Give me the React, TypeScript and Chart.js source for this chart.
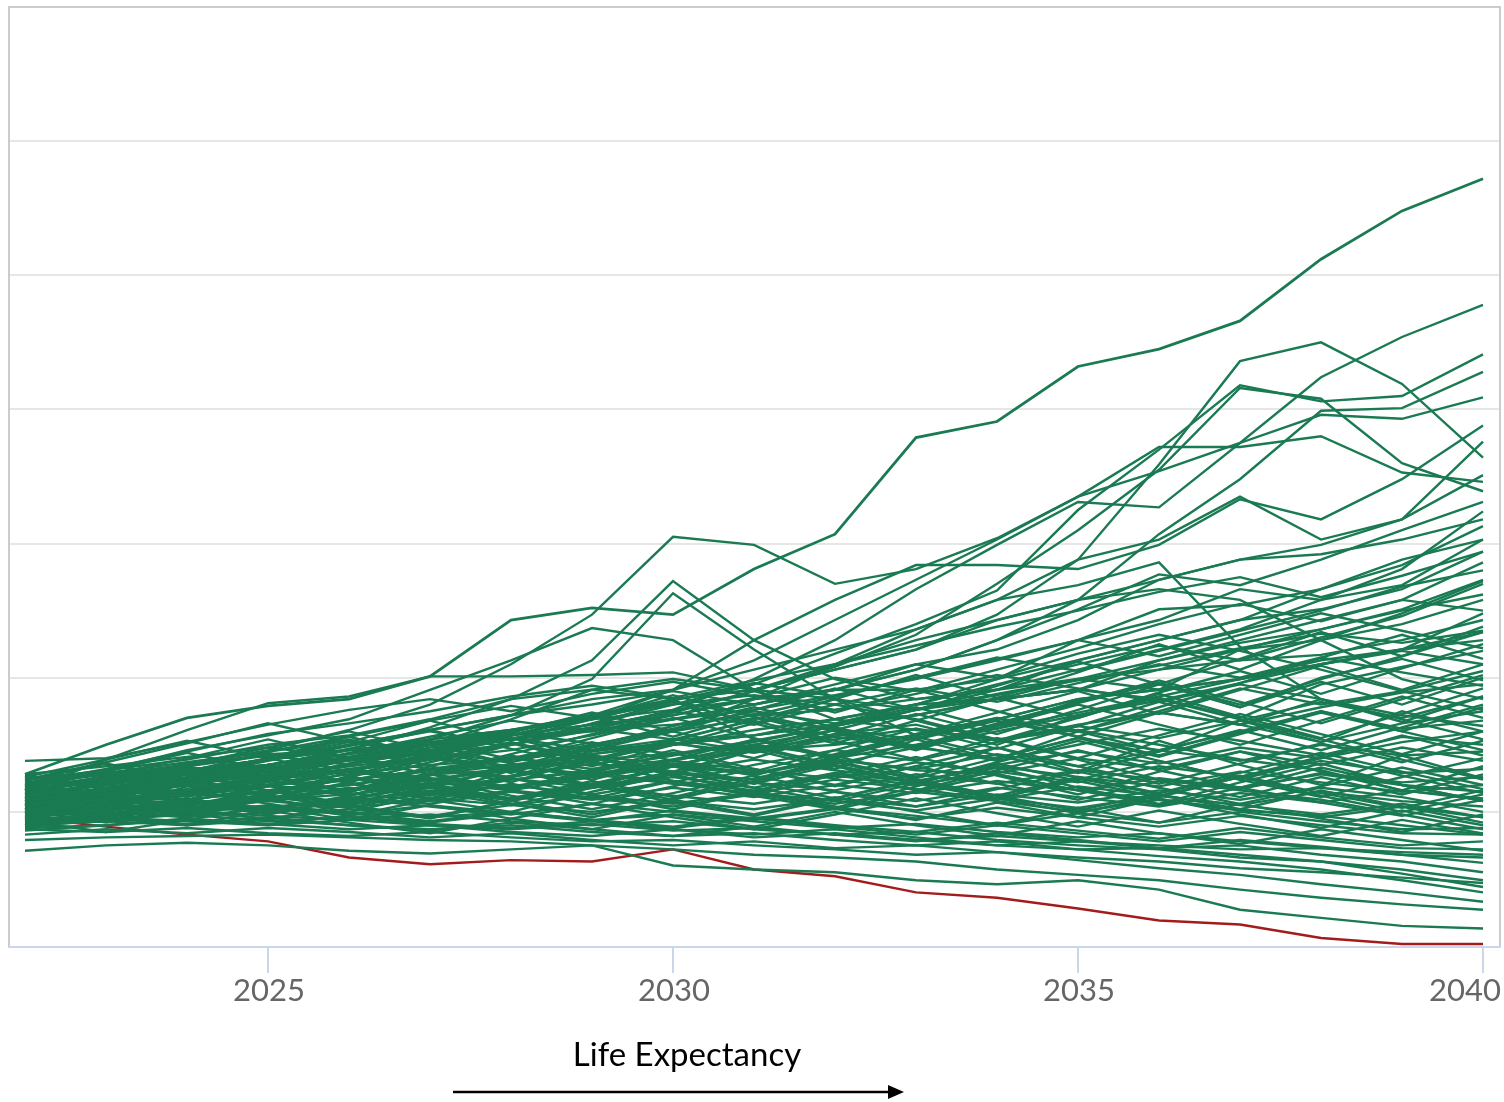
import { useEffect, useRef } from 'react';
import { Chart, registerables } from 'chart.js';

Chart.register(...registerables);

const YEARS = [2022, 2023, 2024, 2025, 2026, 2027, 2028, 2029, 2030, 2031, 2032, 2033, 2034, 2035, 2036, 2037, 2038, 2039, 2040];
const X_TICKS = [2025, 2030, 2035, 2040];
const AXIS_TITLE = 'Life Expectancy';

const RED_SERIES = [9.6, 8.9, 8.3, 7.8, 6.6, 6.1, 6.4, 6.3, 7.2, 5.7, 5.2, 4.0, 3.6, 2.8, 1.9, 1.6, 0.6, 0.15, 0.15];

const L01 = [12.8, 15.0, 17.0, 17.9, 18.4, 20.1, 24.3, 25.2, 24.7, 28.1, 30.7, 37.9, 39.1, 43.2, 44.5, 46.6, 51.2, 54.8, 57.2];
const L02 = [11.6, 12.5, 13.5, 14.6, 16.1, 18.0, 21.0, 24.7, 30.5, 29.9, 27.0, 28.1, 30.4, 33.5, 35.4, 37.5, 42.4, 45.4, 47.8];
const L03 = [10.9, 11.3, 12.4, 13.1, 13.9, 15.0, 16.1, 16.9, 18.4, 19.1, 20.6, 22.1, 24.7, 28.8, 35.9, 43.6, 45.0, 41.9, 36.4];
const L04 = [11.2, 12.0, 12.8, 13.5, 14.1, 15.2, 16.0, 17.2, 18.0, 19.5, 21.8, 24.0, 26.5, 32.5, 37.0, 41.8, 40.6, 41.0, 44.1];
const L05 = [10.5, 11.4, 12.1, 13.0, 13.8, 14.3, 15.5, 16.3, 17.5, 19.0, 20.8, 23.2, 27.0, 31.0, 35.5, 41.6, 40.8, 36.0, 33.9];
const L06 = [11.3, 11.6, 12.4, 13.5, 14.6, 16.3, 18.4, 21.3, 27.2, 22.8, 19.9, 18.4, 19.1, 21.3, 22.8, 24.3, 26.6, 28.8, 30.3];
const L07 = [10.5, 10.9, 11.6, 12.8, 13.9, 15.4, 17.2, 19.9, 26.3, 22.1, 18.4, 15.7, 16.9, 18.4, 19.1, 19.9, 21.0, 22.1, 22.8];
const L08 = [12.0, 13.1, 14.6, 15.7, 16.9, 19.1, 21.3, 23.7, 22.8, 19.1, 16.9, 16.1, 15.4, 16.1, 15.0, 13.9, 13.1, 11.6, 10.9];
const L09 = [11.6, 13.9, 16.1, 18.1, 18.6, 20.1, 20.1, 20.2, 20.4, 19.1, 21.0, 22.8, 24.3, 25.8, 27.3, 28.8, 29.2, 30.3, 31.8];
const L10 = [10.9, 11.3, 12.0, 12.8, 13.9, 14.6, 15.7, 17.2, 19.1, 21.3, 24.3, 27.3, 30.3, 33.5, 37.2, 37.2, 38.0, 35.3, 34.6];
const L11 = [10.1, 10.9, 11.3, 12.0, 13.1, 13.9, 15.0, 16.1, 17.6, 19.9, 22.8, 26.6, 29.9, 33.1, 32.7, 37.5, 39.6, 39.3, 40.9];
const L12 = [10.5, 10.9, 11.6, 12.4, 13.1, 14.3, 15.4, 16.9, 19.1, 22.8, 25.8, 28.4, 28.4, 28.1, 29.9, 33.3, 31.8, 34.8, 38.8];
const L13 = [9.8, 10.1, 10.5, 11.3, 12.0, 13.1, 13.9, 15.0, 16.1, 18.4, 21.0, 23.6, 25.8, 28.8, 30.3, 33.5, 30.3, 31.8, 37.6];
const L14 = [12.4, 12.8, 13.1, 13.9, 14.6, 15.0, 15.7, 16.5, 17.2, 18.4, 19.1, 21.0, 22.1, 24.3, 27.3, 28.8, 29.9, 31.8, 35.1];
const L15 = [11.3, 11.6, 12.4, 12.8, 13.1, 13.9, 14.6, 15.7, 16.9, 18.0, 19.1, 20.6, 22.8, 25.1, 27.7, 26.9, 28.8, 31.0, 33.1];
const L16 = [9.4, 9.8, 10.5, 10.9, 11.6, 12.4, 13.1, 13.9, 15.0, 16.1, 16.9, 18.0, 19.9, 22.8, 24.3, 26.6, 25.8, 28.1, 32.4];
const L17 = [10.9, 11.6, 12.8, 13.5, 14.3, 15.0, 15.7, 16.5, 16.9, 17.6, 18.7, 19.9, 21.3, 22.8, 25.1, 25.4, 26.6, 28.4, 31.3];
const L18 = [10.1, 10.5, 10.9, 11.6, 12.0, 12.8, 13.1, 13.9, 14.3, 15.0, 16.1, 17.6, 19.1, 20.6, 22.1, 23.6, 25.8, 26.9, 30.3];
const L19 = [11.6, 12.4, 13.1, 13.5, 14.6, 15.4, 16.1, 16.9, 17.6, 18.4, 19.1, 19.1, 19.9, 21.3, 22.8, 24.3, 25.1, 26.6, 29.4];
const L20 = [10.5, 10.9, 11.3, 12.0, 12.4, 13.1, 13.9, 14.6, 15.4, 15.7, 16.9, 18.0, 18.4, 19.1, 21.3, 22.8, 24.3, 25.8, 28.6];
const L21 = [9.8, 10.1, 10.9, 11.6, 12.4, 13.1, 13.5, 14.3, 15.0, 15.7, 16.5, 17.2, 18.4, 19.9, 19.1, 22.1, 23.6, 25.1, 27.3];
const L22 = [12.0, 12.8, 13.5, 14.3, 14.6, 15.0, 15.4, 16.1, 16.5, 17.2, 17.6, 18.4, 19.1, 19.9, 20.6, 22.1, 22.8, 24.0, 25.8];
const L23 = [10.9, 11.3, 11.6, 12.0, 12.8, 13.5, 13.9, 14.6, 15.0, 15.7, 16.5, 17.2, 18.4, 19.1, 20.6, 21.3, 21.7, 22.8, 24.3];
const L24 = [9.4, 9.8, 10.1, 10.9, 11.3, 12.0, 12.4, 13.1, 13.9, 14.6, 15.0, 15.7, 16.9, 18.4, 19.1, 19.9, 21.3, 22.1, 23.4];
const L25 = [11.6, 12.2, 12.8, 13.3, 13.9, 14.5, 15.4, 16.0, 16.9, 18.0, 19.1, 20.6, 22.8, 25.8, 30.7, 34.8, 39.9, 40.1, 42.8];

const M01 = [11.0, 11.8, 12.5, 12.0, 13.2, 14.0, 13.1, 14.5, 15.2, 14.0, 15.8, 16.5, 15.0, 17.2, 18.5, 17.0, 19.5, 20.8, 22.0];
const M02 = [10.2, 10.8, 11.5, 12.3, 11.6, 12.8, 13.5, 12.6, 13.8, 15.0, 14.2, 15.5, 17.0, 16.0, 17.5, 19.2, 18.0, 19.0, 20.5];
const M03 = [9.5, 10.3, 10.0, 11.0, 11.8, 11.2, 12.4, 13.0, 12.2, 13.5, 14.6, 13.8, 15.2, 16.4, 15.5, 16.8, 18.2, 17.0, 18.6];
const M04 = [11.8, 12.6, 13.4, 14.2, 13.5, 14.8, 15.5, 14.6, 16.0, 17.0, 16.2, 15.4, 16.8, 15.6, 17.4, 16.5, 15.2, 16.6, 17.5];
const M05 = [10.6, 11.2, 12.0, 11.4, 12.5, 12.0, 13.2, 14.0, 13.0, 12.4, 13.6, 14.8, 14.0, 15.5, 14.6, 16.0, 17.5, 16.2, 16.8];
const M06 = [9.0, 9.6, 10.4, 10.0, 10.8, 11.5, 10.9, 11.8, 12.6, 11.8, 12.9, 12.2, 13.5, 14.5, 13.6, 14.8, 14.0, 15.2, 16.0];
const M07 = [12.2, 12.9, 13.7, 14.5, 15.3, 14.4, 15.0, 16.2, 15.4, 14.5, 15.8, 14.9, 13.8, 15.0, 16.2, 15.3, 14.2, 15.6, 15.0];
const M08 = [10.0, 10.5, 11.2, 11.9, 11.3, 12.2, 11.6, 12.6, 13.4, 12.8, 13.9, 13.2, 14.3, 13.4, 14.6, 13.8, 15.0, 14.2, 14.5];
const M09 = [11.4, 12.0, 11.5, 12.4, 13.0, 12.3, 13.4, 12.8, 13.8, 13.1, 12.5, 13.7, 12.9, 14.0, 13.2, 14.5, 13.5, 14.8, 13.8];
const M10 = [9.3, 9.8, 10.5, 11.1, 10.5, 11.4, 12.0, 11.3, 12.3, 11.6, 12.7, 12.0, 13.0, 12.2, 13.4, 12.6, 13.8, 12.9, 13.2];
const M11 = [10.8, 11.4, 12.2, 11.6, 12.4, 13.1, 12.5, 11.8, 12.9, 12.2, 11.6, 12.8, 12.1, 13.1, 12.4, 11.7, 12.9, 12.2, 12.6];
const M12 = [12.5, 13.0, 12.4, 13.3, 14.0, 13.2, 12.6, 13.6, 12.9, 13.9, 13.1, 12.3, 13.4, 12.6, 11.9, 13.0, 12.2, 11.5, 12.0];
const M13 = [9.8, 10.2, 10.9, 10.3, 11.1, 10.6, 11.5, 10.9, 11.8, 11.1, 12.0, 11.4, 12.3, 11.6, 12.5, 11.8, 12.8, 12.0, 11.5];
const M14 = [10.4, 11.0, 10.5, 11.2, 10.7, 11.6, 11.0, 11.9, 11.2, 10.6, 11.5, 10.8, 11.8, 11.1, 10.4, 11.4, 10.7, 11.6, 11.0];
const M15 = [11.6, 12.3, 13.0, 12.4, 13.2, 12.5, 11.9, 12.8, 12.1, 11.4, 12.4, 11.7, 10.9, 11.9, 11.2, 10.5, 11.5, 10.8, 10.4];
const M16 = [8.9, 9.4, 10.0, 9.5, 10.2, 9.7, 10.5, 10.0, 10.8, 10.2, 11.0, 10.4, 11.3, 10.7, 11.6, 10.9, 11.8, 11.1, 10.0];
const M17 = [10.1, 10.6, 10.2, 10.8, 10.3, 11.0, 10.5, 11.2, 10.6, 11.4, 10.8, 10.1, 11.0, 10.3, 11.2, 10.5, 9.8, 10.6, 9.6];
const M18 = [11.2, 11.7, 11.2, 12.0, 11.4, 10.8, 11.6, 11.0, 10.4, 11.3, 10.6, 11.5, 10.8, 10.0, 10.9, 10.2, 9.6, 10.4, 9.2];
const M19 = [9.6, 10.0, 9.6, 10.3, 9.8, 10.5, 9.9, 9.3, 10.1, 9.5, 10.3, 9.7, 9.0, 9.9, 9.2, 10.0, 9.3, 8.7, 8.8];
const M20 = [10.7, 11.3, 10.8, 10.2, 11.0, 10.4, 9.8, 10.6, 10.0, 9.4, 10.2, 9.5, 10.3, 9.6, 8.9, 9.7, 9.0, 8.4, 8.3];
const M21 = [8.6, 9.0, 9.5, 9.1, 9.7, 9.2, 9.9, 9.4, 8.9, 9.6, 9.0, 8.5, 9.2, 8.6, 8.0, 8.8, 8.1, 7.5, 7.8];
const M22 = [10.0, 10.4, 9.9, 10.5, 9.9, 9.3, 10.0, 9.4, 8.8, 9.5, 8.9, 8.3, 9.0, 8.4, 7.8, 8.5, 7.9, 7.3, 7.2];
const M23 = [9.2, 9.5, 9.1, 9.6, 9.0, 8.6, 9.2, 8.7, 8.2, 8.9, 8.3, 7.8, 8.4, 7.9, 7.3, 7.9, 7.4, 6.8, 6.6];
const M24 = [11.9, 12.5, 13.1, 12.6, 13.4, 14.1, 13.4, 14.3, 15.1, 14.4, 15.4, 16.2, 15.3, 16.5, 17.4, 16.5, 17.8, 18.9, 19.5];
const M25 = [10.3, 10.9, 11.6, 12.4, 13.1, 12.4, 13.3, 14.2, 13.5, 14.6, 15.6, 14.8, 16.0, 17.2, 18.3, 19.6, 21.0, 22.0, 21.0];
const M26 = [12.8, 13.4, 14.1, 14.8, 14.1, 15.0, 15.9, 15.1, 14.3, 15.3, 16.4, 17.6, 18.7, 19.8, 20.9, 22.2, 23.3, 22.6, 23.5];
const M27 = [9.9, 10.6, 11.4, 10.8, 11.7, 12.5, 11.8, 12.7, 13.6, 12.9, 14.0, 15.0, 16.2, 17.4, 18.6, 19.9, 21.0, 22.1, 24.8];
const M28 = [11.1, 11.7, 12.4, 13.0, 12.3, 13.2, 14.0, 13.2, 14.2, 15.2, 16.4, 17.6, 18.8, 19.9, 21.3, 22.6, 23.6, 25.0, 26.2];

const N01 = [10.4, 11.8, 10.9, 12.6, 11.5, 13.4, 12.2, 14.0, 12.8, 14.6, 13.2, 15.4, 13.9, 16.0, 14.5, 16.8, 15.2, 17.5, 16.0];
const N02 = [11.2, 10.1, 11.9, 10.8, 12.7, 11.3, 13.1, 11.8, 13.6, 12.1, 14.2, 12.6, 14.8, 13.0, 15.3, 13.5, 12.0, 14.2, 12.5];
const N03 = [9.9, 11.3, 12.5, 11.2, 13.0, 14.3, 12.9, 14.8, 16.0, 14.6, 16.5, 17.8, 16.2, 18.3, 19.6, 17.8, 20.0, 21.4, 19.8];
const N04 = [12.0, 11.0, 12.3, 13.5, 12.1, 11.0, 12.6, 13.8, 12.3, 11.2, 12.8, 14.1, 12.7, 11.3, 13.0, 14.5, 13.0, 11.6, 13.4];
const N05 = [10.8, 12.1, 13.3, 12.0, 11.2, 12.7, 14.0, 15.2, 13.8, 12.7, 14.3, 15.8, 17.0, 15.6, 14.2, 15.9, 17.5, 16.0, 14.6];
const N06 = [9.4, 10.6, 9.6, 11.0, 12.2, 10.9, 10.0, 11.5, 12.8, 11.4, 10.3, 11.9, 13.3, 11.8, 10.6, 12.2, 13.6, 12.0, 10.8];
const N07 = [11.7, 13.0, 14.4, 13.1, 14.7, 16.1, 14.7, 13.4, 15.0, 16.6, 15.1, 16.8, 18.5, 17.0, 18.9, 20.5, 18.8, 20.7, 22.5];
const N08 = [10.1, 9.2, 10.4, 11.6, 10.4, 9.5, 10.8, 12.0, 10.7, 9.7, 11.0, 12.3, 11.0, 9.9, 11.2, 12.6, 11.2, 10.0, 11.3];
const N09 = [12.3, 13.6, 12.4, 14.0, 15.4, 14.0, 15.7, 17.1, 15.6, 17.3, 16.0, 14.6, 16.4, 18.0, 16.5, 15.0, 16.8, 18.6, 17.0];
const N10 = [10.6, 11.6, 12.8, 14.0, 12.7, 14.2, 15.5, 14.1, 13.0, 14.6, 16.1, 14.8, 16.5, 18.1, 19.6, 18.0, 19.9, 21.6, 23.4];
const N11 = [9.1, 10.0, 10.9, 9.9, 11.0, 12.1, 11.0, 12.3, 11.1, 12.5, 13.8, 12.5, 14.0, 15.5, 14.1, 15.8, 17.4, 16.0, 17.8];
const N12 = [11.9, 11.0, 12.1, 11.2, 10.3, 11.5, 10.5, 11.8, 13.0, 11.8, 10.8, 12.1, 11.0, 12.5, 11.3, 10.2, 11.6, 10.4, 9.6];
const N13 = [10.9, 12.2, 13.5, 14.8, 16.0, 14.6, 13.3, 14.9, 16.4, 17.8, 16.3, 14.9, 16.6, 18.2, 19.8, 18.2, 16.6, 18.4, 20.2];
const N14 = [9.7, 10.8, 9.8, 11.0, 10.0, 11.3, 12.5, 11.3, 10.2, 11.5, 10.4, 9.4, 10.7, 9.6, 11.0, 9.8, 8.8, 10.1, 9.0];
const N15 = [12.6, 13.9, 15.3, 14.0, 15.6, 14.2, 15.9, 17.4, 16.0, 17.6, 19.2, 17.6, 19.4, 21.2, 19.5, 21.4, 23.4, 21.6, 23.8];
const N16 = [10.3, 11.2, 12.4, 11.3, 12.6, 13.9, 15.2, 13.9, 15.4, 16.8, 15.3, 13.9, 15.5, 14.0, 15.7, 17.3, 15.8, 14.3, 16.0];
const N17 = [11.4, 10.4, 11.5, 12.7, 11.5, 12.8, 11.6, 10.6, 11.9, 13.2, 12.0, 13.4, 14.8, 13.4, 12.1, 13.6, 15.1, 13.7, 15.3];
const N18 = [8.8, 9.7, 10.7, 9.8, 10.9, 12.0, 10.9, 12.1, 13.4, 12.1, 13.5, 12.2, 11.0, 12.4, 13.8, 12.4, 11.1, 12.6, 14.0];
const N19 = [11.0, 12.3, 11.1, 12.5, 13.9, 15.3, 13.9, 15.5, 17.0, 15.5, 14.1, 15.8, 17.4, 19.0, 17.3, 19.1, 20.9, 19.1, 21.0];
const N20 = [10.2, 11.3, 10.3, 9.4, 10.6, 11.8, 10.6, 9.6, 10.9, 9.8, 11.1, 10.0, 9.0, 10.3, 9.2, 10.6, 9.5, 8.5, 9.8];
const N21 = [12.7, 11.7, 13.0, 14.4, 13.0, 14.6, 13.2, 11.9, 13.4, 14.9, 13.5, 12.1, 13.7, 15.3, 13.8, 12.4, 14.0, 15.7, 14.2];
const N22 = [9.5, 10.4, 11.5, 12.7, 11.5, 12.8, 14.2, 12.9, 14.4, 13.0, 14.6, 16.2, 14.7, 16.4, 18.2, 16.5, 18.4, 16.7, 18.6];
const N23 = [10.7, 9.8, 10.8, 11.9, 13.1, 11.9, 10.8, 12.1, 10.9, 12.3, 13.7, 12.4, 11.2, 12.6, 11.4, 12.9, 14.4, 13.0, 11.7];
const N24 = [11.5, 12.7, 14.0, 15.4, 14.0, 12.8, 14.3, 15.8, 17.4, 19.0, 17.4, 19.1, 17.5, 16.0, 17.8, 19.6, 21.5, 23.2, 21.4];
const N25 = [9.0, 9.9, 9.0, 10.1, 9.2, 8.4, 9.5, 10.6, 9.6, 8.7, 9.8, 11.0, 9.9, 8.9, 10.1, 9.1, 8.2, 9.4, 8.4];
const N26 = [10.5, 11.6, 12.8, 11.6, 10.6, 11.9, 13.2, 12.0, 13.4, 14.8, 13.4, 12.1, 13.6, 12.3, 11.1, 12.6, 14.1, 12.7, 11.4];
const N27 = [12.1, 11.1, 10.2, 11.4, 12.6, 11.4, 12.7, 14.1, 12.7, 11.5, 12.9, 11.6, 13.1, 14.6, 13.1, 11.8, 13.3, 12.0, 10.8];
const N28 = [10.0, 11.1, 12.2, 13.4, 14.7, 13.4, 15.0, 16.6, 18.2, 16.6, 18.4, 20.2, 18.5, 20.4, 22.5, 20.6, 22.8, 24.8, 27.2];
const N29 = [11.3, 12.5, 11.3, 12.7, 11.5, 12.9, 11.7, 13.1, 14.6, 13.2, 11.9, 13.4, 12.1, 10.9, 12.3, 11.1, 12.6, 11.3, 12.8];
const N30 = [9.3, 8.5, 9.4, 10.4, 9.4, 10.5, 9.5, 8.7, 9.8, 8.9, 10.0, 9.0, 8.2, 9.3, 8.4, 7.6, 8.7, 7.9, 7.1];
const N31 = [11.8, 13.1, 12.0, 13.4, 12.2, 13.7, 15.1, 13.7, 15.3, 16.9, 18.4, 16.8, 15.3, 17.0, 18.8, 17.1, 15.5, 17.3, 19.2];
const N32 = [10.9, 10.0, 11.0, 10.1, 11.2, 12.4, 11.2, 10.2, 11.4, 12.7, 11.5, 10.4, 11.7, 13.0, 11.8, 10.6, 11.9, 13.3, 12.0];
const N33 = [12.4, 13.7, 15.1, 16.6, 15.2, 16.8, 15.3, 17.0, 18.7, 17.1, 15.6, 17.3, 15.8, 17.6, 19.5, 17.8, 19.7, 18.0, 20.0];
const N34 = [9.6, 10.6, 11.7, 10.6, 9.7, 10.9, 12.1, 11.0, 12.3, 11.2, 10.2, 11.5, 12.8, 11.6, 10.5, 11.8, 10.7, 9.7, 10.9];
const N35 = [11.1, 12.2, 13.4, 12.2, 13.6, 15.0, 13.6, 12.4, 13.9, 15.4, 14.0, 15.6, 14.2, 12.9, 14.5, 16.1, 14.6, 16.3, 18.0];
const N36 = [10.3, 9.4, 10.5, 11.6, 10.5, 9.6, 10.8, 9.8, 11.0, 12.2, 11.0, 12.4, 11.2, 10.1, 11.4, 12.7, 11.4, 10.3, 11.6];

const B01 = [7.1, 7.5, 7.7, 7.5, 7.1, 6.9, 7.2, 7.5, 6.0, 5.7, 5.5, 4.9, 4.6, 4.9, 4.2, 2.7, 2.1, 1.5, 1.3];
const B02 = [7.9, 8.1, 8.2, 8.3, 8.1, 7.9, 7.8, 7.5, 7.2, 6.8, 6.6, 6.3, 5.7, 5.3, 4.9, 4.2, 3.6, 3.1, 2.7];
const B03 = [8.7, 8.5, 8.8, 8.4, 8.2, 8.5, 8.1, 7.8, 7.9, 7.5, 7.2, 6.8, 7.0, 6.4, 5.8, 5.3, 4.6, 4.0, 3.3];
const B04 = [9.0, 9.3, 9.0, 9.4, 9.0, 8.7, 9.0, 8.5, 8.2, 8.4, 7.9, 7.5, 7.8, 7.2, 6.7, 6.3, 5.7, 4.9, 4.0];
const B05 = [9.6, 9.4, 9.8, 9.3, 9.6, 9.1, 8.8, 9.3, 8.7, 8.3, 8.7, 8.1, 7.5, 7.2, 7.3, 6.8, 6.3, 5.4, 4.4];
const B06 = [8.3, 8.7, 8.4, 8.8, 8.5, 8.1, 8.4, 7.9, 7.5, 7.8, 7.3, 7.5, 7.0, 6.6, 6.3, 5.8, 5.5, 5.1, 4.7];
const B07 = [10.0, 9.8, 10.1, 9.7, 9.4, 9.8, 9.3, 9.0, 9.3, 8.7, 8.3, 8.5, 7.9, 7.5, 7.2, 6.6, 6.3, 5.7, 4.9];
const B08 = [9.3, 9.6, 9.3, 9.0, 9.4, 9.0, 8.7, 9.1, 8.6, 8.8, 8.3, 7.9, 8.2, 7.8, 7.3, 7.5, 6.8, 6.3, 5.5];
const B09 = [10.5, 10.3, 10.0, 10.4, 10.0, 9.6, 10.0, 9.4, 9.8, 9.3, 8.8, 9.1, 8.5, 8.1, 8.4, 7.8, 7.3, 6.8, 6.2];
const B10 = [8.8, 9.0, 9.4, 9.1, 8.7, 9.0, 8.5, 8.2, 8.7, 8.1, 8.4, 7.9, 7.5, 7.8, 7.5, 7.2, 7.3, 7.0, 6.8];

const D01 = [11.3, 12.0, 13.1, 13.9, 15.0, 16.1, 17.2, 18.4, 19.1, 20.6, 22.1, 23.6, 25.8, 26.9, 28.6, 22.3, 18.4, 16.9, 15.4];
const D02 = [11.6, 12.4, 12.8, 13.5, 14.3, 15.4, 16.1, 17.2, 18.4, 19.1, 20.6, 22.1, 24.3, 25.8, 26.6, 25.8, 22.8, 19.9, 18.4];
const D03 = [10.9, 11.6, 12.4, 13.1, 13.9, 15.0, 16.9, 19.1, 18.4, 15.4, 13.9, 13.1, 12.8, 11.6, 10.9, 10.1, 9.7, 9.0, 8.3];
const D04 = [10.1, 10.9, 11.6, 12.4, 13.5, 14.6, 15.7, 16.5, 18.0, 18.7, 18.0, 16.9, 15.4, 13.9, 12.4, 11.6, 10.9, 9.8, 8.7];
const D05 = [12.4, 13.1, 13.9, 15.0, 15.7, 16.9, 18.4, 19.1, 19.9, 19.1, 18.4, 17.6, 18.4, 19.1, 18.4, 16.9, 15.4, 13.9, 12.4];

const U01 = [10.6, 11.5, 12.6, 13.8, 14.9, 16.0, 15.0, 16.3, 17.5, 16.5, 18.0, 19.2, 18.2, 19.6, 21.0, 20.0, 21.5, 20.4, 19.4];
const U02 = [11.5, 12.4, 13.6, 14.5, 15.6, 16.8, 17.9, 17.0, 18.3, 19.6, 18.6, 20.0, 21.4, 22.8, 21.6, 23.2, 24.8, 23.5, 22.2];
const U03 = [12.1, 13.2, 14.5, 15.8, 16.6, 17.5, 18.6, 19.4, 18.5, 19.8, 21.0, 22.4, 23.8, 25.0, 26.4, 27.5, 26.0, 27.6, 29.4];
const U04 = [10.8, 11.6, 12.8, 14.0, 15.2, 14.4, 15.7, 17.0, 18.2, 17.2, 18.6, 20.0, 21.5, 20.5, 22.0, 23.5, 25.0, 26.8, 28.0];
const U05 = [9.7, 10.5, 11.4, 12.5, 13.6, 14.5, 13.7, 15.0, 16.2, 17.5, 16.6, 18.0, 19.5, 21.0, 22.4, 21.3, 23.0, 24.6, 27.0];
const U06 = [11.4, 12.0, 13.1, 13.9, 15.0, 16.1, 17.2, 18.0, 19.0, 18.0, 19.5, 21.0, 20.0, 21.8, 23.2, 22.0, 20.6, 19.0, 17.6];
const U07 = [13.8, 14.0, 15.2, 16.5, 17.6, 18.4, 17.5, 18.8, 19.7, 18.6, 17.6, 18.8, 20.2, 19.2, 18.2, 19.5, 18.4, 17.2, 16.4];
const U08 = [10.4, 11.0, 12.0, 13.2, 14.4, 15.6, 16.8, 16.0, 17.2, 18.5, 20.0, 19.0, 20.6, 22.2, 24.0, 25.5, 24.2, 25.8, 25.0];

const GREEN_SERIES = [
  L01, L02, L03, L04, L05, L06, L07, L08, L09, L10, L11, L12, L13, L14, L15, L16, L17, L18, L19, L20, L21, L22, L23, L24, L25,
  M01, M02, M03, M04, M05, M06, M07, M08, M09, M10, M11, M12, M13, M14, M15, M16, M17, M18, M19, M20, M21, M22, M23, M24, M25, M26, M27, M28,
  N01, N02, N03, N04, N05, N06, N07, N08, N09, N10, N11, N12, N13, N14, N15, N16, N17, N18, N19, N20, N21, N22, N23, N24, N25, N26, N27, N28, N29, N30, N31, N32, N33, N34, N35, N36,
  B01, B02, B03, B04, B05, B06, B07, B08, B09, B10,
  D01, D02, D03, D04, D05,
  U01, U02, U03, U04, U05, U06, U07, U08,
];

const GREEN = 'rgb(26,122,82)';
const RED = 'rgb(163,28,28)';

const decorations = {
  id: 'decorations',
  beforeDatasetsDraw(chart: any) {
    const { ctx, chartArea } = chart;
    ctx.save();
    ctx.lineWidth = 2;
    ctx.strokeStyle = '#cccccc';
    ctx.beginPath();
    ctx.moveTo(chartArea.left, chartArea.top - 1);
    ctx.lineTo(chartArea.left, chartArea.bottom);
    ctx.moveTo(chartArea.right, chartArea.top - 1);
    ctx.lineTo(chartArea.right, chartArea.bottom);
    ctx.stroke();
    ctx.restore();
  },
  afterDraw(chart: any) {
    const { ctx, chartArea } = chart;
    const xs = chart.scales.x;
    ctx.save();
    ctx.strokeStyle = '#ccd6eb';
    ctx.lineWidth = 2;
    ctx.beginPath();
    ctx.moveTo(chartArea.left - 1, chartArea.bottom + 1);
    ctx.lineTo(chartArea.right + 1, chartArea.bottom + 1);
    ctx.stroke();
    ctx.font = '31px Lato';
    ctx.fillStyle = '#666666';
    ctx.textBaseline = 'alphabetic';
    X_TICKS.forEach((t, i) => {
      const px = Math.round(xs.getPixelForValue(t));
      ctx.beginPath();
      ctx.moveTo(px, chartArea.bottom);
      ctx.lineTo(px, chartArea.bottom + 27);
      ctx.stroke();
      const label = String(t);
      if (i === X_TICKS.length - 1) {
        ctx.textAlign = 'right';
        ctx.fillText(label, chartArea.right + 1, 1001);
      } else {
        ctx.textAlign = 'center';
        ctx.fillText(label, px + 1, 1001);
      }
    });
    ctx.fillStyle = '#000000';
    ctx.font = '33px Lato';
    ctx.textAlign = 'center';
    ctx.fillText(AXIS_TITLE, 687, 1066);
    ctx.strokeStyle = '#000000';
    ctx.lineWidth = 2.5;
    ctx.beginPath();
    ctx.moveTo(453, 1092);
    ctx.lineTo(892, 1092);
    ctx.stroke();
    ctx.fillStyle = '#000000';
    ctx.beginPath();
    ctx.moveTo(904, 1092);
    ctx.lineTo(888, 1085);
    ctx.lineTo(888, 1099);
    ctx.closePath();
    ctx.fill();
    ctx.restore();
  },
};

export default function App() {
  const canvasRef = useRef<HTMLCanvasElement | null>(null);

  useEffect(() => {
    document.body.style.margin = '0';
    const canvas = canvasRef.current;
    if (!canvas) return;
    const toPoints = (arr: number[]) => arr.map((v, i) => ({ x: YEARS[i], y: v }));
    const datasets: any[] = GREEN_SERIES.map((s, i) => ({
      label: 'Scenario ' + (i + 1),
      data: toPoints(s),
      borderColor: GREEN,
      borderWidth: i === 0 ? 2.8 : 2.4,
      pointRadius: 0,
      tension: 0,
      fill: false,
    }));
    datasets.push({
      label: 'Lowest',
      data: toPoints(RED_SERIES),
      borderColor: RED,
      borderWidth: 2.4,
      pointRadius: 0,
      tension: 0,
      fill: false,
    });
    const chart = new Chart(canvas, {
      type: 'line',
      data: { datasets },
      options: {
        animation: false,
        responsive: false,
        maintainAspectRatio: false,
        layout: { padding: { left: 9, right: 4, top: 7, bottom: 156 } },
        plugins: { legend: { display: false }, tooltip: { enabled: false }, title: { display: false } },
        scales: {
          x: {
            type: 'linear',
            display: false,
            min: 2022 - 16 / 81,
            max: 2040 + 17 / 81,
          },
          y: {
            type: 'linear',
            display: true,
            min: 0,
            max: 70,
            border: { display: false },
            ticks: { display: false, stepSize: 10 },
            grid: {
              drawTicks: false,
              lineWidth: 2,
              color: (c: any) => {
                const v = c.tick && c.tick.value;
                if (v === 70) return '#cccccc';
                if (v === 0) return 'rgba(0,0,0,0)';
                return '#e6e6e6';
              },
            },
          },
        },
      },
      plugins: [decorations],
    });
    return () => chart.destroy();
  }, []);

  return (
    <div style={{ width: 1504, height: 1102, position: 'relative' }}>
      <canvas ref={canvasRef} width={1504} height={1102} style={{ display: 'block' }} />
    </div>
  );
}
